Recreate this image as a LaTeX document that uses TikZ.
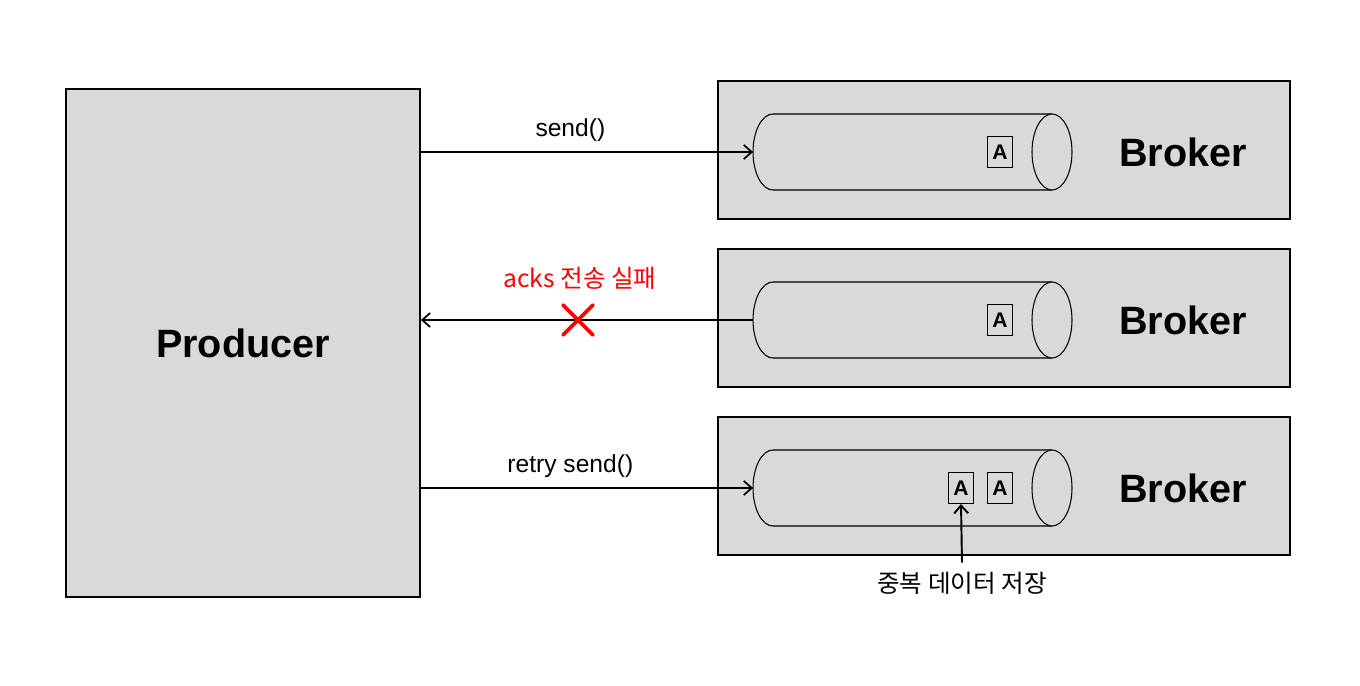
\documentclass[tikz,border=0pt]{standalone}
\usepackage{fontspec}
\setmainfont{Liberation Sans}
\newfontfamily\krfont{Noto Sans CJK KR}
\usepackage{xcolor}
\usetikzlibrary{positioning, arrows.meta}
\definecolor{boxgray}{HTML}{D9D9D9}

\begin{document}
\begin{tikzpicture}[x=0.02cm, y=-0.02cm,
  box/.style={draw, line width=1.1pt, fill=boxgray},
  queue/.style={draw, line width=0.6pt, fill=boxgray},
  rec/.style={draw, line width=0.6pt, font=\bfseries\fontsize{12}{12}\selectfont,
    minimum width=0.5cm, minimum height=0.62cm, inner sep=0pt},
  msg/.style={-{Straight Barb[length=4.5pt, width=8pt]}, line width=1pt},
  lbl/.style={font=\fontsize{14}{16}\selectfont, inner sep=0pt},
  krlbl/.style={font=\krfont\fontsize{14}{16}\selectfont, inner sep=0pt},
  title/.style={font=\bfseries\fontsize{22.5}{26}\selectfont}]
  \useasboundingbox (0,0) rectangle (1360,686);
  % Producer
  \node[box, minimum width=7.08cm, minimum height=10.16cm] (producer) at (243,343) {};
  \node[title] at (producer) {Producer};
  % Brokers with their queues
  \foreach \i/\by/\qy in {1/150/152, 2/318/320, 3/486/488} {
    \node[box, minimum width=11.44cm, minimum height=2.76cm] (b\i) at (1004,\by) {};
    \node[title] at (1183,\qy) {Broker};
    \draw[queue] (1052,\qy-38) -- (773,\qy-38)
      arc[start angle=270, end angle=90, x radius=20, y radius=38] -- (1052,\qy+38);
    \draw[queue] (1052,\qy) ellipse[x radius=20, y radius=38];
    \coordinate (q\i) at (753,\qy);
    \node[rec] (a\i) at (1000,\qy) {A};
  }
  \node[rec] (dupA) at (961,488) {A};
  % Messages
  \draw[msg] (q1 -| producer.east) -- node[lbl, above=5.5pt, pos=0.45] {send()} (q1);
  \draw[msg] (q2) -- (q2 -| producer.east);
  \node[krlbl, red] (fail) at (580,278) {acks 전송 실패};
  \draw[red, line width=2.2pt, line cap=round] (563,305) -- (593,335) (593,305) -- (563,335);
  \draw[msg] (q3 -| producer.east) -- node[lbl, above=5.5pt, pos=0.45] {retry send()} (q3);
  % Duplicate
  \node[krlbl] (dup) at (962,583) {중복 데이터 저장};
  \draw[msg, line width=1.1pt] ([yshift=5pt]dup.north) -- (dupA.south);
\end{tikzpicture}
\end{document}
